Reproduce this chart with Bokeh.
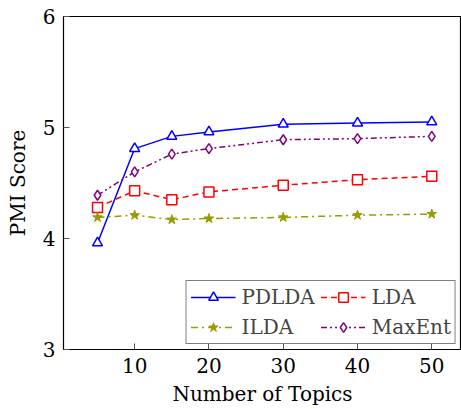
from bokeh.plotting import figure
from bokeh.models import Range1d, FixedTicker, Legend, LegendItem
from bokeh.embed import file_html
from bokeh.resources import INLINE

topics = [5, 10, 15, 20, 30, 40, 50]
pdlda = [3.96, 4.81, 4.92, 4.96, 5.03, 5.04, 5.05]
lda = [4.28, 4.43, 4.35, 4.42, 4.48, 4.53, 4.56]
ilda = [4.19, 4.21, 4.17, 4.18, 4.19, 4.21, 4.22]
maxent = [4.39, 4.60, 4.76, 4.81, 4.89, 4.90, 4.92]
x_ticks = [10, 20, 30, 40, 50]
y_ticks = [3, 4, 5, 6]

FONT = "DejaVu Serif"
FS = "20px"

p = figure(width=461, height=409, output_backend="svg", toolbar_location=None,
           x_range=Range1d(0.42, 54.0), y_range=Range1d(3, 6),
           min_border_left=63, min_border_top=16, min_border_bottom=60, min_border_right=0,
           x_axis_label="Number of Topics", y_axis_label="PMI Score")
p.grid.visible = False
p.outline_line_color = "black"
p.outline_line_width = 1.2
p.background_fill_color = "white"
p.border_fill_color = "white"

for ax in p.xaxis + p.yaxis:
    ax.major_tick_in = 6
    ax.major_tick_out = 0
    ax.minor_tick_line_color = None
    ax.axis_line_color = "black"
    ax.major_tick_line_color = "#555555"
    ax.major_label_text_font = FONT
    ax.major_label_text_font_size = FS
    ax.major_label_text_color = "black"
    ax.axis_label_text_font = FONT
    ax.axis_label_text_font_size = FS
    ax.axis_label_text_font_style = "normal"
    ax.axis_label_text_color = "black"
p.xaxis.ticker = FixedTicker(ticks=x_ticks)
p.yaxis.ticker = FixedTicker(ticks=y_ticks)
p.xaxis.major_label_standoff = 8
p.yaxis.major_label_standoff = 8
p.xaxis.axis_label_standoff = 6
p.yaxis.axis_label_standoff = 10

l1 = p.line(topics, pdlda, line_color="#0000ff", line_width=1.5)
m1 = p.scatter(topics, pdlda, marker="triangle", size=10, line_color="#0000ff", fill_color="white", line_width=1.5)
l2 = p.line(topics, lda, line_color="#ff0000", line_width=1.5, line_dash="6 4")
m2 = p.scatter(topics, lda, marker="square", size=10, line_color="#ff0000", fill_color="white", line_width=1.5)
l3 = p.line(topics, ilda, line_color="#999900", line_width=1.5, line_dash="7 4 2 4")
m3 = p.scatter(topics, ilda, marker="star", size=10, line_color="#999900", fill_color="#999900", line_width=1)
l4 = p.line(topics, maxent, line_color="#800080", line_width=1.5, line_dash="6 3 2 3 2 3")
m4 = p.scatter(topics, maxent, marker="diamond", size=10, line_color="#800080", fill_color="white", line_width=1.5)

legend = Legend(items=[
    LegendItem(label="PDLDA", renderers=[l1, m1]),
    LegendItem(label="ILDA", renderers=[l3, m3]),
    LegendItem(label="LDA", renderers=[l2, m2]),
    LegendItem(label="MaxEnt", renderers=[l4, m4]),
], ncols=2, location="bottom_right")
legend.label_text_font = FONT
legend.label_text_font_size = FS
legend.border_line_color = "black"
legend.border_line_width = 1
legend.glyph_width = 45
legend.glyph_height = 24
legend.label_standoff = 6
legend.padding = 4
legend.spacing = 6
legend.margin = 5
legend.background_fill_alpha = 1
p.add_layout(legend)

open("out.html", "w").write(file_html(p, INLINE))
